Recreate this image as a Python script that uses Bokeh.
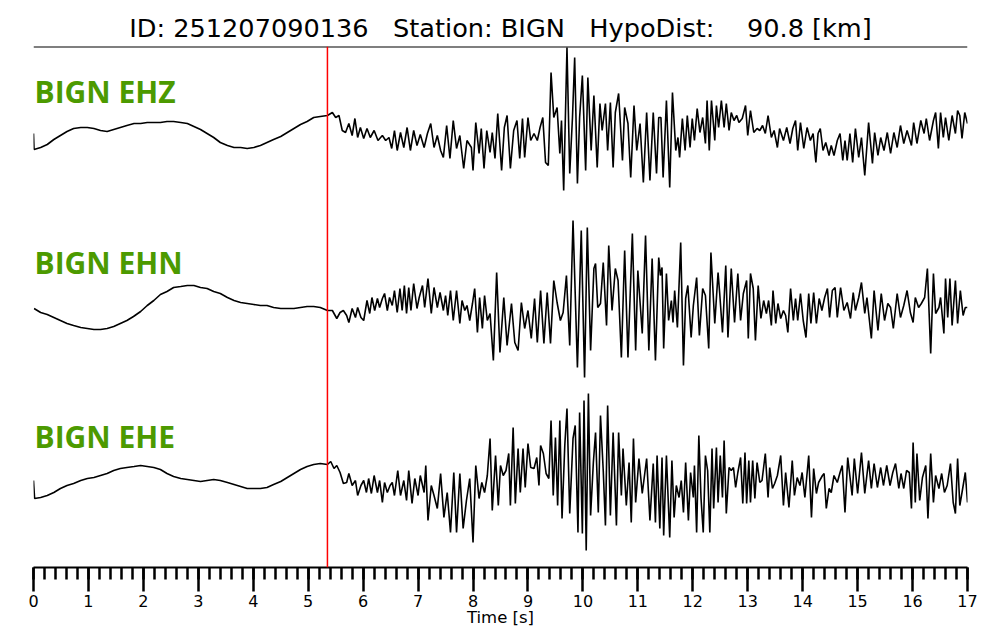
from bokeh.plotting import figure
from bokeh.models import Span, Label, Range1d, SingleIntervalTicker, ColumnDataSource
from bokeh.embed import file_html
from bokeh.resources import INLINE

title_text = "ID: 251207090136 \u00a0 Station: BIGN \u00a0 HypoDist: \u00a0\u00a0 90.8 [km]"
channels = ["BIGN EHZ", "BIGN EHN", "BIGN EHE"]
trace_offsets = [437, 262, 87]
label_heights = [476, 305, 131]
pick_time = 5.35
x_label = "Time [s]"

# (time [s], relative amplitude)
ehz = [(0.00,-3),(0.01,-19),(0.13,-17),(0.25,-14),(0.37,-9),(0.49,-5),(0.61,-1),(0.73,2),(0.86,3),(0.98,3),(1.10,2),(1.22,0),(1.34,-1),(1.46,1),(1.58,3),(1.70,5),(1.83,7),(1.95,7),(2.07,8),(2.19,8),(2.31,8),(2.43,9),(2.55,9),(2.68,8),(2.80,7),(2.92,4),(3.04,1),(3.16,-3),(3.28,-7),(3.40,-12),(3.53,-15),(3.65,-17),(3.77,-17),(3.89,-18),(4.01,-17),(4.13,-15),(4.25,-12),(4.37,-9),(4.50,-6),(4.62,-2),(4.74,2),(4.86,6),(4.98,9),(5.10,13),(5.22,14),(5.35,15),
(5.44,18),(5.50,13),(5.56,15),(5.62,0),(5.68,-2),(5.74,7),(5.80,-5),(5.85,12),(5.90,-7),(5.95,3),(6.01,-8),(6.07,2),(6.13,-7),(6.20,0),(6.27,-10),(6.35,-5),(6.41,-10),(6.47,-7),(6.52,-18),(6.57,0),(6.62,-20),(6.68,-2),(6.74,-17),(6.80,3),(6.86,-20),(6.92,0),(6.98,-15),(7.04,-4),(7.11,-17),(7.17,-3),(7.23,7),(7.29,-17),(7.35,-5),(7.41,-20),(7.46,-27),(7.52,5),(7.58,-28),(7.64,10),(7.70,-18),(7.76,-5),(7.83,-38),(7.89,-10),(7.97,-17),(8.00,-40),(8.05,8),(8.11,-23),(8.15,2),(8.20,-38),(8.25,0),(8.31,-22),(8.35,-2),(8.40,-28),(8.45,17),(8.52,-40),(8.57,3),(8.62,15),(8.68,-38),(8.74,0),(8.80,10),(8.85,-28),(8.90,12),(8.94,-27),(9.00,13),(9.05,-10),(9.11,-3),(9.17,-10),(9.22,3),(9.27,13),(9.32,-32),(9.37,-35),(9.42,58),(9.47,13),(9.53,23),(9.58,-23),(9.61,10),(9.65,-60),(9.71,83),(9.76,-43),(9.81,13),(9.85,73),(9.90,-53),(9.94,13),(9.99,55),(10.05,-40),(10.09,53),(10.15,-20),(10.20,35),(10.26,-37),(10.31,27),(10.35,0),(10.41,27),(10.45,-20),(10.50,28),(10.55,-37),(10.59,18),(10.65,37),(10.72,-30),(10.76,23),(10.82,7),(10.87,-47),(10.93,25),(10.98,-20),(11.04,7),(11.10,-52),(11.16,18),
(11.22,-50),(11.28,18),(11.34,-43),(11.38,13),(11.42,13),(11.46,-47),(11.52,30),(11.58,-57),(11.63,38),(11.69,-20),(11.73,-7),(11.76,-27),(11.81,12),(11.86,-20),(11.90,15),(11.95,-17),(11.99,12),(12.03,-10),(12.08,22),(12.13,-2),(12.18,13),(12.23,-13),(12.26,30),(12.30,-20),(12.34,30),(12.40,-10),(12.43,25),(12.47,3),(12.52,30),(12.57,3),(12.61,27),(12.66,0),(12.70,18),(12.75,10),(12.80,15),(12.84,8),(12.90,12),(12.96,25),(13.00,-5),(13.05,20),(13.11,-2),(13.17,2),(13.22,0),(13.27,5),(13.32,-3),(13.37,15),(13.43,-7),(13.48,0),(13.54,-17),(13.58,2),(13.65,-10),(13.71,3),(13.77,-13),(13.82,2),(13.87,10),(13.91,-20),(13.96,8),(14.02,-18),(14.08,3),(14.14,-10),(14.19,-3),(14.24,-32),(14.28,-3),(14.32,2),(14.37,-20),(14.42,-12),(14.48,-25),(14.52,-15),(14.57,-25),(14.63,-10),(14.68,-3),(14.73,-30),(14.77,-10),(14.81,-30),(14.86,-3),(14.91,-32),(14.96,2),(15.02,-27),(15.07,-7),(15.13,-45),(15.20,8),(15.27,-33),(15.31,-2),(15.37,-25),(15.42,-7),(15.48,-20),(15.54,-2),(15.60,-23),(15.66,-2),(15.72,-17),(15.78,5),(15.84,-13),(15.90,0),(15.98,-15),(16.02,8),(16.08,-13),(16.15,10),(16.21,-3),(16.25,12),(16.31,-10),(16.38,10),(16.42,18),(16.47,-18),(16.51,18),(16.56,-7),(16.60,13),(16.66,-10),(16.72,15),(16.78,-3),(16.82,20),(16.86,15),(16.90,-8),(16.95,18),(17.00,7)]

ehn = [(0.01,-3),(0.13,-7),(0.25,-9),(0.37,-12),(0.49,-15),(0.61,-18),(0.73,-20),(0.86,-22),(0.98,-23),(1.10,-24),(1.22,-24),(1.34,-23),(1.46,-21),(1.58,-18),(1.70,-15),(1.82,-11),(1.95,-6),(2.07,0),(2.19,5),(2.31,11),(2.43,14),(2.55,18),(2.68,19),(2.80,20),(2.92,20),(3.04,18),(3.16,17),(3.28,14),(3.40,12),(3.53,8),(3.65,5),(3.77,3),(3.89,2),(4.01,1),(4.13,0),(4.25,0),(4.37,-2),(4.50,-3),(4.62,-3),(4.74,-3),(4.86,-2),(4.98,-1),(5.10,-1),(5.22,-2),(5.35,-5),
(5.44,-5),(5.52,-13),(5.58,-7),(5.64,-5),(5.70,-10),(5.74,-17),(5.80,-3),(5.86,-12),(5.90,-2),(5.96,-12),(6.01,-15),(6.07,5),(6.12,-8),(6.16,8),(6.21,-5),(6.26,7),(6.30,-2),(6.35,7),(6.39,12),(6.44,-5),(6.48,8),(6.53,0),(6.57,15),(6.62,-7),(6.67,17),(6.71,-5),(6.75,20),(6.79,-8),(6.83,18),(6.87,-5),(6.92,22),(6.98,-3),(7.02,8),(7.08,20),(7.12,-2),(7.18,27),(7.24,-8),(7.29,18),(7.35,-2),(7.40,13),(7.46,-5),(7.50,10),(7.54,-10),(7.59,15),(7.64,-15),(7.70,15),(7.76,-18),(7.80,5),(7.85,-5),(7.89,0),(7.94,-15),(7.99,2),(8.03,17),(8.08,-27),(8.12,8),(8.17,-23),(8.21,10),(8.26,-15),(8.31,-8),(8.37,-55),(8.43,33),(8.49,-47),(8.56,8),(8.62,-40),(8.70,2),(8.76,-37),(8.82,-45),(8.88,3),(8.94,-23),(9.00,-5),(9.06,-33),(9.12,7),(9.17,-37),(9.23,15),(9.29,-38),(9.35,13),(9.41,-38),(9.47,25),(9.53,3),(9.59,-15),(9.64,-7),(9.70,30),(9.76,-40),(9.82,85),(9.90,-62),(9.97,75),(10.03,-72),(10.08,78),(10.14,-45),(10.20,37),(10.23,42),(10.27,-2),(10.32,2),(10.37,43),(10.43,-20),(10.47,60),(10.53,-5),(10.59,37),(10.64,25),(10.70,-52),(10.76,55),(10.82,-52),(10.90,72),(10.96,-45),(11.00,35),(11.08,-28),(11.14,70),
(11.20,-45),(11.26,47),(11.32,-55),(11.38,48),(11.41,30),(11.44,38),(11.47,-43),(11.52,32),(11.56,-15),(11.61,5),(11.64,-17),(11.67,15),(11.72,-22),(11.78,63),(11.83,-60),(11.87,7),(11.91,20),(11.97,-32),(12.01,0),(12.07,28),(12.12,-30),(12.18,17),(12.23,10),(12.29,-43),(12.33,53),(12.40,-18),(12.46,33),(12.49,12),(12.54,-27),(12.60,40),(12.64,-32),(12.70,37),(12.76,-17),(12.82,32),(12.87,-15),(12.92,12),(12.98,25),(13.01,-33),(13.05,32),(13.10,17),(13.14,-35),(13.19,20),(13.24,-13),(13.29,5),(13.34,-8),(13.38,5),(13.43,-20),(13.46,15),(13.51,-18),(13.55,2),(13.60,-13),(13.65,-5),(13.69,-10),(13.73,-27),(13.78,17),(13.83,-15),(13.87,7),(13.91,-15),(13.96,12),(14.01,-15),(14.06,-32),(14.11,12),(14.15,-18),(14.20,13),(14.25,-18),(14.30,7),(14.35,-5),(14.40,8),(14.45,17),(14.49,-12),(14.54,15),(14.59,18),(14.63,-12),(14.69,18),(14.75,-5),(14.81,3),(14.87,-13),(14.92,13),(14.96,-5),(15.02,8),(15.07,23),(15.13,-8),(15.17,8),(15.25,-33),(15.30,15),(15.37,-25),(15.43,12),(15.49,-15),(15.55,2),(15.60,-2),(15.65,-23),(15.72,12),(15.78,-12),(15.84,0),(15.90,15),(15.96,-7),(16.01,-17),(16.05,8),(16.11,-2),(16.16,2),(16.22,8),(16.27,37),(16.33,-48),(16.38,32),(16.42,-8),(16.48,-2),(16.51,8),(16.57,-28),(16.60,27),(16.64,-12),(16.68,27),(16.72,-20),(16.78,25),(16.82,-18),(16.87,15),(16.92,-10),(16.96,-2),(17.00,-2)]

ehe = [(0.00,0),(0.02,-18),(0.13,-17),(0.25,-15),(0.37,-12),(0.49,-8),(0.61,-5),(0.73,-3),(0.86,0),(0.98,2),(1.10,3),(1.22,5),(1.34,7),(1.46,10),(1.58,12),(1.70,13),(1.83,14),(1.95,15),(2.07,14),(2.19,13),(2.31,11),(2.43,7),(2.55,4),(2.68,2),(2.80,1),(2.92,0),(3.04,-1),(3.16,0),(3.28,1),(3.40,0),(3.53,-2),(3.65,-4),(3.77,-6),(3.89,-8),(4.01,-8),(4.13,-8),(4.25,-7),(4.37,-4),(4.50,-1),(4.62,3),(4.74,7),(4.86,11),(4.98,14),(5.10,16),(5.22,17),(5.35,16),
(5.41,19),(5.47,12),(5.52,15),(5.58,8),(5.64,-3),(5.70,-2),(5.74,7),(5.80,-5),(5.86,0),(5.90,-15),(5.96,-5),(6.01,0),(6.06,-12),(6.10,2),(6.15,-13),(6.20,5),(6.26,-12),(6.30,0),(6.35,-22),(6.39,-2),(6.44,-12),(6.49,-5),(6.53,-2),(6.57,-15),(6.63,10),(6.68,-15),(6.74,0),(6.79,-20),(6.83,10),(6.89,-23),(6.94,2),(7.00,-15),(7.04,5),(7.11,-12),(7.14,15),(7.18,-40),(7.24,-5),(7.29,-15),(7.35,-28),(7.41,7),(7.47,-37),(7.53,-12),(7.59,-52),(7.65,8),(7.70,-52),(7.76,7),(7.82,-48),(7.88,-20),(7.94,2),(8.00,-62),(8.05,15),(8.11,-18),(8.16,-2),(8.21,-12),(8.26,5),(8.31,42),(8.35,-30),(8.41,25),(8.46,-25),(8.50,15),(8.55,5),(8.60,10),(8.65,27),(8.68,-25),(8.73,53),(8.77,-23),(8.82,32),(8.86,-12),(8.91,32),(8.95,-7),(9.00,37),(9.05,13),(9.11,12),(9.16,23),(9.20,-5),(9.23,35),(9.28,27),(9.33,7),(9.38,2),(9.42,60),(9.46,-15),(9.50,43),(9.54,-25),(9.58,60),(9.62,-38),(9.67,35),(9.71,72),(9.76,-33),(9.82,42),(9.86,55),(9.91,-52),(9.94,68),(9.99,-53),(10.02,80),(10.06,-70),(10.10,87),(10.14,-35),(10.19,18),(10.23,48),(10.28,-32),(10.32,65),(10.37,10),(10.41,-45),(10.45,75),(10.50,-35),(10.55,48),(10.61,-45),(10.65,48),(10.70,-15),(10.73,32),(10.79,-25),(10.84,18),(10.88,-42),(10.92,42),(10.96,-22),(11.02,22),(11.08,-13),
(11.16,22),(11.22,-40),(11.28,17),(11.32,-42),(11.35,25),(11.40,-48),(11.44,23),(11.47,-55),(11.52,25),(11.58,-57),(11.62,20),(11.66,-37),(11.70,-5),(11.75,-17),(11.79,0),(11.83,-32),(11.87,18),(11.92,-40),(11.96,8),(12.01,-17),(12.03,15),(12.07,-52),(12.11,45),(12.15,-18),(12.19,-52),(12.23,25),(12.27,10),(12.31,-52),(12.35,32),(12.38,-28),(12.43,33),(12.46,-22),(12.50,25),(12.54,-17),(12.57,40),(12.61,-33),(12.66,13),(12.70,10),(12.74,13),(12.78,-7),(12.82,8),(12.87,23),(12.91,-23),(12.95,28),(12.98,-23),(13.02,20),(13.05,-22),(13.09,20),(13.13,-18),(13.17,18),(13.22,-2),(13.26,0),(13.32,27),(13.37,-17),(13.40,13),(13.45,-8),(13.49,-3),(13.54,5),(13.60,25),(13.65,-25),(13.69,8),(13.75,-27),(13.81,20),(13.85,-15),(13.90,3),(13.95,-5),(13.99,8),(14.04,-17),(14.11,25),(14.16,-37),(14.20,12),(14.25,-13),(14.29,-2),(14.36,5),(14.39,7),(14.43,-28),(14.48,-8),(14.52,-12),(14.57,5),(14.63,-2),(14.68,8),(14.72,15),(14.77,-32),(14.82,23),(14.90,-15),(14.94,22),(15.00,-13),(15.07,28),(15.13,-13),(15.20,20),(15.25,-8),(15.30,17),(15.36,-7),(15.42,13),(15.47,-5),(15.53,15),(15.59,-5),(15.64,8),(15.69,17),(15.75,-8),(15.79,7),(15.84,-8),(15.89,10),(15.94,8),(15.98,-28),(16.01,38),(16.05,-22),(16.08,27),(16.13,-20),(16.18,3),(16.24,15),(16.28,-38),(16.33,27),(16.38,-22),(16.42,5),(16.48,-8),(16.53,7),(16.58,-12),(16.63,-5),(16.69,17),(16.74,-22),(16.78,-33),(16.82,22),(16.86,-25),(16.90,-12),(16.96,8),(17.00,-22)]

traces = [ehz, ehn, ehe]

p = figure(width=992, height=632, x_range=Range1d(0, 17), y_range=Range1d(0, 521),
           output_backend="svg", toolbar_location=None, y_axis_location=None,
           min_border_left=33, min_border_right=25, min_border_top=46, min_border_bottom=65)
p.grid.visible = False
p.outline_line_color = None
p.background_fill_color = "white"
p.border_fill_color = "white"

p.title.text = title_text
p.title.align = "center"
p.title.text_font = "DejaVu Sans"
p.title.text_font_size = "25.6px"
p.title.text_font_style = "normal"
p.title.text_color = "black"
p.title.standoff = 7

for name, off, lh, tr in zip(channels, trace_offsets, label_heights, traces):
    src = ColumnDataSource(dict(t=[s[0] for s in tr], y=[off + s[1] for s in tr]))
    p.line("t", "y", source=src, line_color="black", line_width=1.6)
    p.add_layout(Label(x=0, y=lh, x_offset=1, text=name, text_font="Open Sans",
                       text_font_style="bold", text_font_size="30px",
                       text_color="#4c9a00", text_baseline="alphabetic"))

p.add_layout(Span(location=pick_time, dimension="height", line_color="#ff0000",
                  line_width=1.5, level="overlay"))
p.add_layout(Span(location=521, dimension="width", line_color="black", line_width=2))

ax = p.xaxis[0]
ax.ticker = SingleIntervalTicker(interval=1, num_minor_ticks=5)
ax.axis_line_width = 2
ax.major_tick_line_width = 2.5
ax.minor_tick_line_width = 2.5
ax.major_tick_in = 0
ax.major_tick_out = 24
ax.minor_tick_in = 0
ax.minor_tick_out = 12
ax.major_label_text_font = "DejaVu Sans"
ax.major_label_text_font_size = "16px"
ax.major_label_standoff = 3
ax.major_label_text_color = "black"
ax.axis_label = x_label
ax.axis_label_text_font = "DejaVu Sans"
ax.axis_label_text_font_size = "16.5px"
ax.axis_label_text_font_style = "normal"
ax.axis_label_text_color = "black"
ax.axis_label_standoff = -2

open("out.html", "w").write(file_html(p, INLINE))
